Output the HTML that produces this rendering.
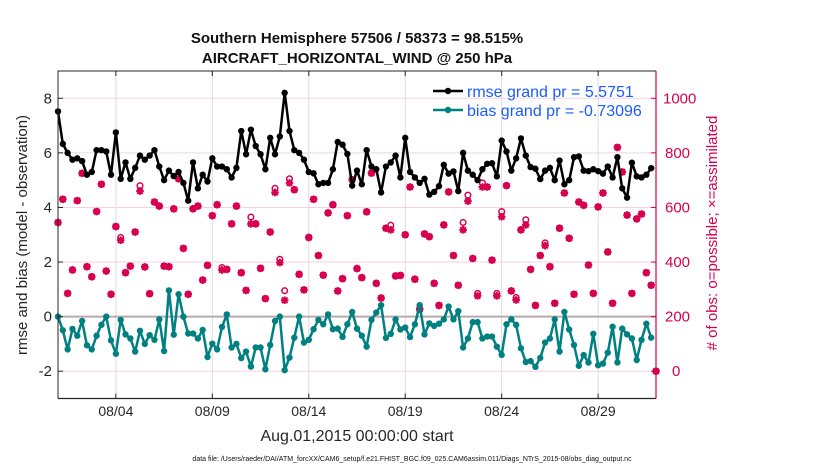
<!DOCTYPE html>
<html><head><meta charset="utf-8"><style>
body{margin:0;background:#fff;}
svg{display:block;font-family:"Liberation Sans",Arial,sans-serif;}
</style></head><body>
<svg id="chart" width="830" height="470" viewBox="0 0 830 470">
<g id="grid"></g>
<g id="series"></g>
<g id="axes"></g>
<text x="357" y="43" text-anchor="middle" font-size="15" font-weight="bold" fill="#111">Southern Hemisphere 57506 / 58373 = 98.515%</text>
<text x="357" y="63" text-anchor="middle" font-size="15" font-weight="bold" fill="#111">AIRCRAFT_HORIZONTAL_WIND @ 250 hPa</text>
<text transform="translate(27,235) rotate(-90)" text-anchor="middle" font-size="15" fill="#262626">rmse and bias (model - observation)</text>
<text transform="translate(717,233) rotate(-90)" text-anchor="middle" font-size="15" fill="#d6004f"># of obs: o=possible; ×=assimilated</text>
<text x="357" y="441" text-anchor="middle" font-size="16" fill="#262626">Aug.01,2015 00:00:00 start</text>
<text x="412" y="461" text-anchor="middle" font-size="7" fill="#111">data file: /Users/raeder/DAI/ATM_forcXX/CAM6_setup/f.e21.FHIST_BGC.f09_025.CAM6assim.011/Diags_NTrS_2015-08/obs_diag_output.nc</text>
<g>
<line x1="433" y1="91" x2="463" y2="91" stroke="#000" stroke-width="2.5"/>
<circle cx="448" cy="91" r="3.2" fill="#000"/>
<text x="467" y="97" font-size="16" fill="#1a5cff">rmse grand pr = 5.5751</text>
<line x1="433" y1="110" x2="463" y2="110" stroke="#008080" stroke-width="2.5"/>
<circle cx="448" cy="110" r="3.2" fill="#008080"/>
<text x="467" y="116" font-size="16" fill="#1a5cff">bias grand pr = -0.73096</text>
</g>
</svg>
<script>
const rmse=[7.52,6.33,6.0,5.75,5.8,5.7,5.2,5.3,6.1,6.1,6.05,5.2,6.75,5.05,5.65,5.05,5.45,5.9,5.75,5.9,6.1,5.5,5.0,5.35,5.15,5.3,4.9,4.25,5.65,4.7,5.2,4.95,5.8,5.5,5.5,5.4,5.1,5.45,6.8,5.95,6.85,6.25,5.95,5.4,6.55,5.95,6.6,8.2,6.8,6.1,6.0,5.75,5.3,5.25,4.85,4.9,4.9,5.4,6.4,6.3,5.96,4.8,5.35,4.85,6.1,5.5,5.4,4.55,5.5,5.65,5.9,5.1,6.55,5.3,5.1,4.9,5.05,4.47,4.57,4.78,5.56,5.24,5.32,4.6,6.0,5.35,5.2,5.0,5.4,5.6,5.62,5.14,6.45,6.05,5.35,5.8,6.53,5.9,5.48,5.42,5.04,5.35,5.45,5.0,5.72,4.85,5.0,5.84,5.87,5.35,5.33,5.4,5.33,5.24,5.5,5.1,5.84,4.7,4.36,5.64,5.14,5.1,5.2,5.44];
const bias=[0,-0.5,-1.2,-0.45,-0.7,-0.16,-1.05,-1.2,-0.7,-0.3,0,-0.87,-1.36,-0.12,-0.65,-0.8,-1.28,-0.52,-1.0,-0.68,-0.85,-0.1,-1.26,0.96,-0.66,0.82,0,-0.62,-0.62,-0.8,-0.49,-1.48,-0.99,-1.2,-0.38,0.08,-1.13,-1.0,-1.52,-1.28,-1.83,-1.13,-1.13,-1.93,-1.04,-0.16,0,-1.96,-1.5,-0.77,0,-0.95,-0.85,-0.46,-0.12,-0.28,0.08,-0.46,-0.44,-0.74,-0.28,0.17,-0.44,-0.7,-1.1,-0.12,0.15,0.42,-0.78,-0.63,-0.1,-0.47,-0.4,-0.75,-0.28,0.42,-0.65,-0.25,-0.34,-0.26,-0.1,0.37,-0.1,0.2,-1.13,-0.8,-0.2,-0.2,-0.8,-0.73,-0.73,-1.1,-1.4,-0.28,-0.1,-0.3,-1.16,-1.66,-1.63,-1.84,-1.51,-0.95,-0.8,-0.1,-1.28,0.17,-0.47,-1.04,-1.8,-1.41,-1.68,-0.63,-1.78,-1.72,-1.32,-0.37,-1.68,-0.44,-0.65,-0.8,-1.59,-0.85,-0.26,-0.77];
const nAssim=[545,630,285,371,625,725,383,346,585,685,367,282,530,480,361,385,510,660,382,284,620,605,385,383,595,705,450,282,595,605,334,388,570,610,371,373,540,605,361,296,540,540,377,266,510,655,398,260,690,665,355,298,490,630,424,352,580,610,294,339,570,702,376,343,584,726,322,268,524,518,349,351,500,675,337,227,503,493,322,241,536,657,424,315,518,623,413,276,675,675,407,276,566,680,294,261,518,536,373,241,424,460,383,249,524,653,487,282,620,608,389,285,602,653,437,249,820,730,572,285,558,576,361,315,0];
const nPoss=[545,630,285,371,625,725,383,346,585,685,367,282,530,490,361,385,510,680,382,284,620,605,385,383,595,705,450,282,595,605,334,388,570,610,380,373,540,605,361,296,565,540,377,266,510,670,410,295,705,665,355,298,490,630,424,352,580,610,294,339,570,702,376,343,584,726,322,268,524,535,349,351,500,675,337,227,503,493,322,241,536,657,424,315,545,645,413,285,690,675,407,285,585,680,294,270,518,555,373,241,424,470,383,249,524,653,487,282,620,608,389,285,602,653,437,249,820,730,572,285,558,576,361,315,0];
const xTickLabels=["08/04","08/09","08/14","08/19","08/24","08/29"];
const xTickDays=[3,8,13,18,23,28];
const yTicks=[-2,0,2,4,6,8];
const rTicks=[0,200,400,600,800,1000];
const stepDays=0.25;

const NS="http://www.w3.org/2000/svg";
const L=58,R=656,T=71,B=398.5;
const X=d=>L+(d/31)*(R-L);
const Y=v=>T+(9-v)/12*(B-T);
const YR=c=>Y(c/100-2);
function mk(tag,attrs,parent){const e=document.createElementNS(NS,tag);for(const k in attrs)e.setAttribute(k,attrs[k]);parent.appendChild(e);return e;}
const grid=document.getElementById('grid'),ser=document.getElementById('series'),ax=document.getElementById('axes');

xTickDays.forEach((d,i)=>{
  const g=mk('line',{x1:X(d),x2:X(d),y1:T,y2:B,stroke:'#dcdcdc','stroke-width':1},grid);
  
  
  const t1=mk('line',{x1:X(d),x2:X(d),y1:B,y2:B-5,stroke:'#262626','stroke-width':1},ax);
  
  
  const t2=mk('line',{x1:X(d),x2:X(d),y1:T,y2:T+5,stroke:'#262626','stroke-width':1},ax);
  
  
  const tx=mk('text',{x:X(d),y:416,'text-anchor':'middle','font-size':14,fill:'#262626'},ax);
  tx.textContent=xTickLabels[i];
  
  
});
yTicks.forEach(v=>{
  if(v!==0){
    const g=mk('line',{x1:L,x2:R,y1:Y(v),y2:Y(v),stroke:'#f3d3df','stroke-width':1},grid);
    
    
  }
  const t=mk('line',{x1:L,x2:L+5,y1:Y(v),y2:Y(v),stroke:'#262626'},ax);
  
  
  const tx=mk('text',{x:52,y:Y(v)+5,'text-anchor':'end','font-size':15,fill:'#262626'},ax);
  tx.textContent=String(v);
  
  
});
const zl=mk('line',{x1:L,x2:R,y1:Y(0),y2:Y(0),stroke:'#b8aaaa','stroke-width':2},grid);


rTicks.forEach(c=>{
  const t=mk('line',{x1:R-5,x2:R,y1:YR(c),y2:YR(c),stroke:'#d6004f'},ax);
  
  
  const tx=mk('text',{x:c>=1000?663:(c===0?672:665),y:YR(c)+5,'font-size':15,fill:'#d6004f'},ax);
  tx.textContent=String(c);
  
  
});
const fr1=mk('path',{d:`M${L},${B}V${T}H${R}`,fill:'none',stroke:'#262626','stroke-width':1},ax);


const fr2=mk('line',{x1:L,x2:R,y1:B,y2:B,stroke:'#262626','stroke-width':1.2},ax);


const fr3=mk('line',{x1:R,x2:R,y1:T,y2:B,stroke:'#d6004f','stroke-width':1.2},ax);



// obs count markers
nPoss.forEach((c,i)=>{
  const x=X(i*stepDays),y=YR(c);
  const o=mk('circle',{cx:x,cy:y,r:2.8,fill:'none',stroke:'#d6004f','stroke-width':1.5},ser);
  
  
});
nAssim.forEach((c,i)=>{
  const x=X(i*stepDays),y=YR(c),s=3.8,d=2.8;
  const p=mk('path',{d:`M${x-s},${y}H${x+s}M${x},${y-s}V${y+s}M${x-d},${y-d}L${x+d},${y+d}M${x-d},${y+d}L${x+d},${y-d}`,stroke:'#d6004f','stroke-width':2},ser);
  
  
});
function line(arr,color,name){
  const pts=arr.map((v,i)=>X(i*stepDays).toFixed(1)+','+Y(v).toFixed(1)).join(' ');
  const pl=mk('polyline',{points:pts,fill:'none',stroke:color,'stroke-width':2.5,'stroke-linejoin':'round'},ser);
  
  
  arr.forEach((v,i)=>{
    const c=mk('circle',{cx:X(i*stepDays),cy:Y(v),r:3.2,fill:color},ser);
    
    
  });
}
line(rmse,'#000000','rmse');
line(bias,'#008080','bias');
</script>
</body></html>
